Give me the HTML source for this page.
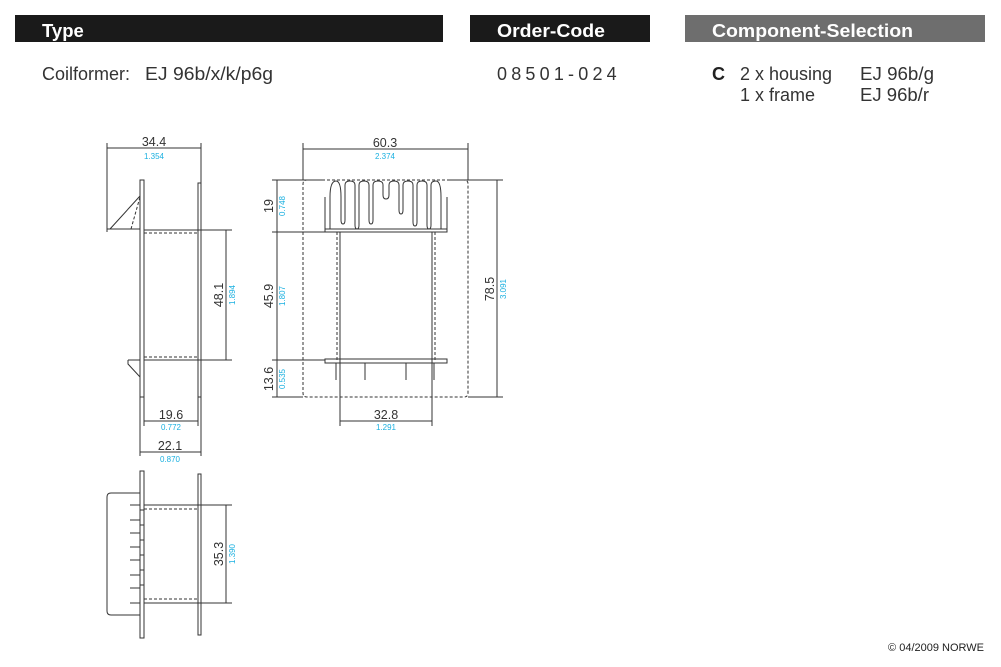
<!DOCTYPE html>
<html><head><meta charset="utf-8"><style>
body{margin:0;background:#fff;width:1001px;height:667px;overflow:hidden;font-family:"Liberation Sans",sans-serif}
svg{position:absolute;left:0;top:0}
</style></head><body>
<svg width="1001" height="667" viewBox="0 0 1001 667" font-family="Liberation Sans, sans-serif">
<rect x="15" y="15" width="428" height="27" fill="#1a1a1a"/>
<rect x="470" y="15" width="180" height="27" fill="#1a1a1a"/>
<rect x="685" y="15" width="300" height="27" fill="#6e6e6e"/>
<text x="42" y="37" fill="#fff" font-size="18.5" font-weight="bold">Type</text>
<text x="497" y="37" fill="#fff" font-size="18.5" font-weight="bold" textLength="108" lengthAdjust="spacingAndGlyphs">Order-Code</text>
<text x="712" y="37" fill="#fff" font-size="18.5" font-weight="bold" textLength="201" lengthAdjust="spacingAndGlyphs">Component-Selection</text>
<g font-size="18" fill="#333">
<text x="42" y="80">Coilformer:</text>
<text x="145" y="80" textLength="128" lengthAdjust="spacingAndGlyphs">EJ 96b/x/k/p6g</text>
<text x="497" y="80" letter-spacing="4.2">08501-024</text>
<text x="712" y="80" font-weight="bold" fill="#222">C</text>
<text x="740" y="80" textLength="92" lengthAdjust="spacingAndGlyphs">2 x housing</text>
<text x="740" y="101" textLength="75" lengthAdjust="spacingAndGlyphs">1 x frame</text>
<text x="860" y="80" textLength="74" lengthAdjust="spacingAndGlyphs">EJ 96b/g</text>
<text x="860" y="101" textLength="69" lengthAdjust="spacingAndGlyphs">EJ 96b/r</text>
</g>
<text x="984" y="651" font-size="11" fill="#222" text-anchor="end">© 04/2009 NORWE</text>

<g stroke="#333" stroke-width="1" fill="none">
<!-- view 1 -->
<line x1="107" y1="143" x2="107" y2="232"/><line x1="201" y1="143" x2="201" y2="183"/>
<line x1="107" y1="148" x2="201" y2="148"/>
<rect x="140" y="180" width="4" height="217"/>
<rect x="198" y="183" width="3" height="214"/>
<polyline points="107,229 140,229"/><line x1="110" y1="229" x2="140" y2="196"/>
<line x1="131" y1="229" x2="140" y2="197" stroke-dasharray="3,2"/>
<line x1="144" y1="230" x2="232" y2="230"/><line x1="144" y1="233" x2="198" y2="233" stroke-dasharray="3,2"/>
<line x1="144" y1="360" x2="232" y2="360"/><line x1="144" y1="357" x2="198" y2="357" stroke-dasharray="3,2"/>
<line x1="226" y1="230" x2="226" y2="360"/>
<polyline points="128,360 140,360 140,377 128,364 128,360"/>
<line x1="144" y1="397" x2="144" y2="426"/><line x1="198" y1="397" x2="198" y2="426"/>
<line x1="140" y1="397" x2="140" y2="456"/><line x1="201" y1="397" x2="201" y2="456"/>
<line x1="144" y1="421" x2="198" y2="421"/><line x1="140" y1="452" x2="201" y2="452"/>
<!-- view 3 -->
<rect x="140" y="471" width="4" height="167"/>
<rect x="198" y="474" width="3" height="161"/>
<path d="M140,493 H111 Q107,493 107,497 V611 Q107,615 111,615 H140"/>
<path d="M130,505h10M130,520h10M130,533h10M130,547h10M130,560h10M130,575h10M130,588h10M130,603h10M140,510h4M140,525h4M140,540h4M140,555h4M140,570h4M140,585h4"/>
<line x1="144" y1="505" x2="232" y2="505"/><line x1="144" y1="509" x2="198" y2="509" stroke-dasharray="3,2"/>
<line x1="144" y1="603" x2="232" y2="603"/><line x1="144" y1="599" x2="198" y2="599" stroke-dasharray="3,2"/>
<line x1="226" y1="505" x2="226" y2="603"/>
<!-- view 2 -->
<line x1="303" y1="143" x2="303" y2="180"/><line x1="468" y1="143" x2="468" y2="180"/>
<line x1="303" y1="149" x2="468" y2="149"/>
<path d="M307,180 H464 Q468,180 468,184 V393 Q468,397 464,397 H307 Q303,397 303,393 V184 Q303,180 307,180Z" stroke-dasharray="3,2"/>
<line x1="272" y1="180" x2="325" y2="180"/><line x1="447" y1="180" x2="503" y2="180"/>
<line x1="272" y1="397" x2="303" y2="397"/><line x1="468" y1="397" x2="503" y2="397"/>
<line x1="272" y1="232" x2="325" y2="232"/><line x1="272" y1="360" x2="325" y2="360"/>
<line x1="277" y1="180" x2="277" y2="397"/><line x1="497" y1="180" x2="497" y2="397"/>
<rect x="325" y="229" width="122" height="3"/>
<path d="M325,229 V197 M330,229 V197 Q330,181 336,181 Q341,181 341,197 V220 Q341,224 343,224 Q345,224 345,220 V185 Q345,181 350,181 Q355,181 355,185 V225 Q355,229 357,229 Q359,229 359,225 V185 Q359,181 364,181 Q369,181 369,185 V220 Q369,224 371,224 Q373,224 373,220 V185 Q373,181 378,181 Q383,181 383,185 V195 Q383,199 386,199 Q389,199 389,195 V185 Q389,181 394,181 Q399,181 399,185 V210 Q399,214 401,214 Q403,214 403,210 V185 Q403,181 408,181 Q413,181 413,185 V222 Q413,226 415,226 Q417,226 417,222 V185 Q417,181 422,181 Q427,181 427,185 V225 Q427,229 429,229 Q431,229 431,225 V185 Q431,181 436,181 Q441,181 441,197 V229 M447,229 V197"/>
<line x1="340" y1="232" x2="340" y2="426"/><line x1="432" y1="232" x2="432" y2="426"/>
<line x1="337" y1="232" x2="337" y2="360" stroke-dasharray="3,2"/><line x1="435" y1="232" x2="435" y2="360" stroke-dasharray="3,2"/>
<rect x="325" y="359" width="122" height="4"/>
<path d="M336,363V380M365,363V380M406,363V380M434,363V380"/>
<line x1="340" y1="421" x2="432" y2="421"/>
</g>
<g font-size="12.5" fill="#333" text-anchor="middle">
<text x="154" y="146">34.4</text>
<text x="171" y="419">19.6</text>
<text x="170" y="450">22.1</text>
<text x="385" y="147">60.3</text>
<text x="386" y="419">32.8</text>
<text transform="translate(223,295) rotate(-90)">48.1</text>
<text transform="translate(223,554) rotate(-90)">35.3</text>
<text transform="translate(273,206) rotate(-90)">19</text>
<text transform="translate(273,296) rotate(-90)">45.9</text>
<text transform="translate(273,379) rotate(-90)">13.6</text>
<text transform="translate(494,289) rotate(-90)">78.5</text>
</g>
<g font-size="8" fill="#1ab0e0" text-anchor="middle">
<text x="154" y="159">1.354</text>
<text x="171" y="430">0.772</text>
<text x="170" y="462">0.870</text>
<text x="385" y="159">2.374</text>
<text x="386" y="430">1.291</text>
<text transform="translate(235,295) rotate(-90)">1.894</text>
<text transform="translate(235,554) rotate(-90)">1.390</text>
<text transform="translate(285,206) rotate(-90)">0.748</text>
<text transform="translate(285,296) rotate(-90)">1.807</text>
<text transform="translate(285,379) rotate(-90)">0.535</text>
<text transform="translate(506,289) rotate(-90)">3.091</text>
</g>
</svg>
</body></html>
